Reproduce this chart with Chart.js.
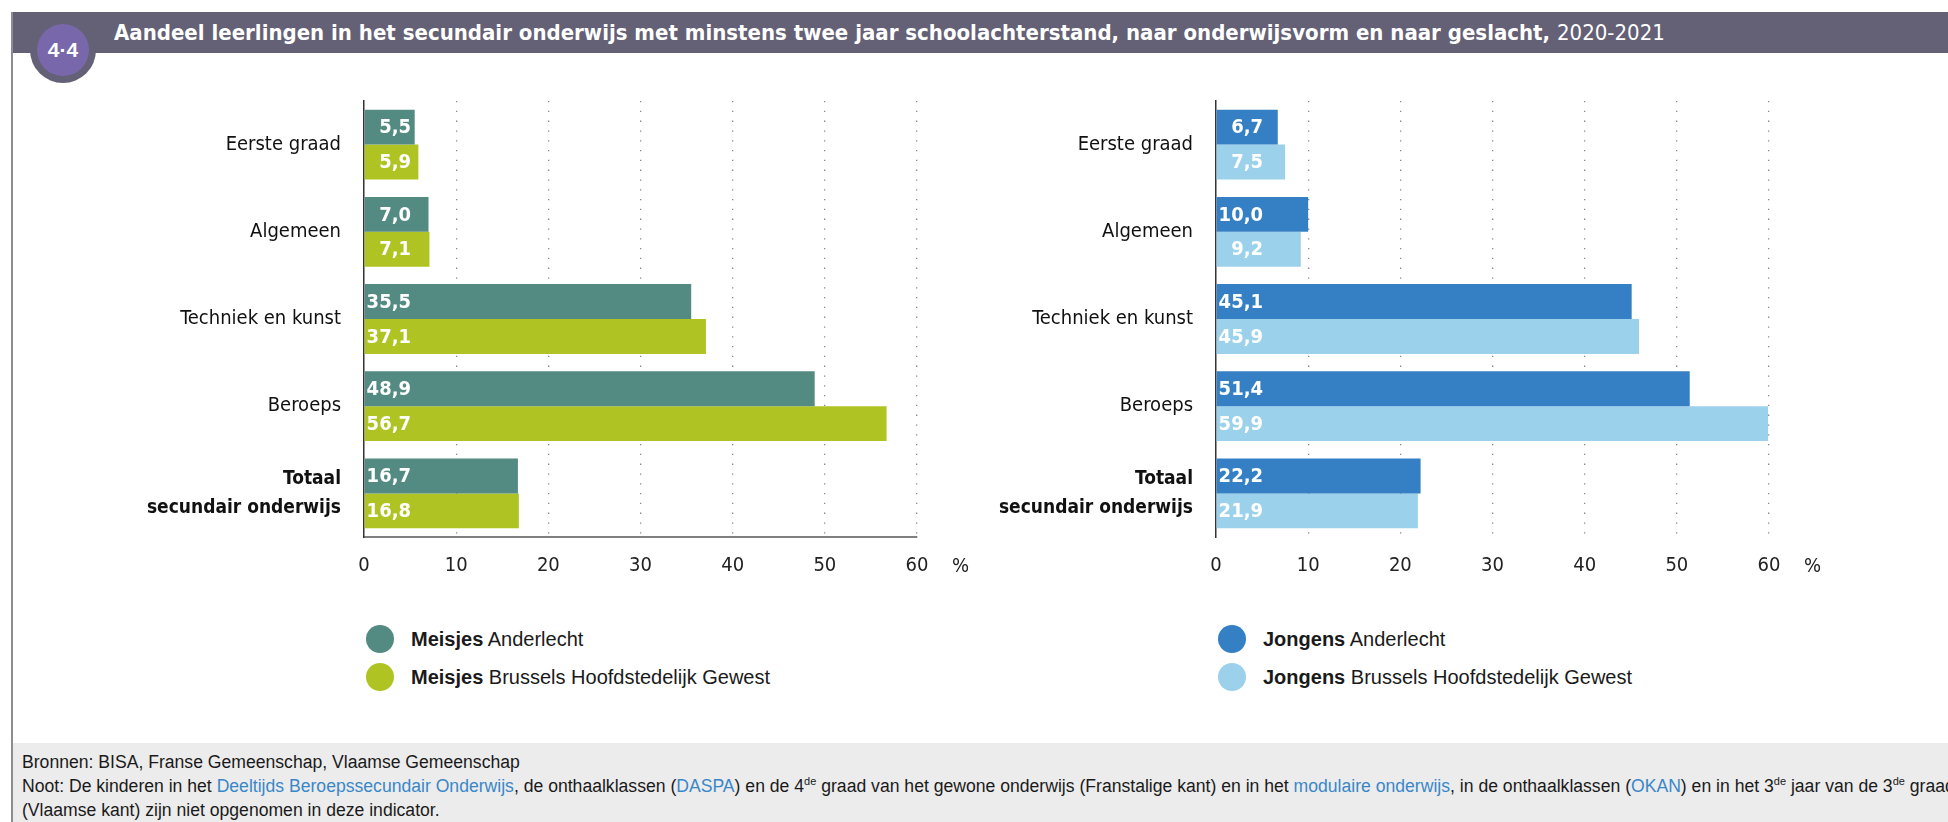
<!DOCTYPE html>
<html>
<head>
<meta charset="utf-8">
<script src="https://cdn.jsdelivr.net/npm/chart.js@4/dist/chart.umd.min.js"></script>
<style>
  body { margin:0; width:1948px; height:822px; background:#fff; position:relative; overflow:hidden; font-family:"Liberation Sans", Arial, sans-serif; }
  .abs { position:absolute; }
  #border { left:11px; top:12px; width:2px; height:810px; background:#8d8b98; }
  #header { left:12px; top:12px; right:0; height:41px; background:#646075; }
  #title { left:114px; top:12px; height:41px; line-height:41px; color:#fff; font-family:"Liberation Sans Narrow","DejaVu Sans Condensed",sans-serif; font-size:22px; font-weight:bold; white-space:nowrap; }
  #title span { font-weight:normal; }
  #badgeOuter { left:30px; top:17px; width:66px; height:66px; border-radius:50%; background:#646075; }
  #badgeInner { left:37px; top:24px; width:52px; height:52px; border-radius:50%; background:#7868ab; color:#fff; font-family:"Liberation Sans Narrow",sans-serif; font-weight:bold; font-size:21px; text-align:center; line-height:52px; }
  canvas { position:absolute; top:0; }
  #c1 { left:0; }
  #c2 { left:852px; }
  .pct { top:553px; font-family:"Liberation Sans Narrow","DejaVu Sans Condensed",sans-serif; font-size:20px; color:#222; }
  .legend { font-size:20px; color:#1a1a1a; white-space:nowrap; }
  .legend div { position:relative; height:38px; line-height:38px; padding-left:45px; }
  .legend i { position:absolute; left:0; top:5px; width:28px; height:28px; border-radius:50%; }
  #footer { left:13px; top:743px; right:0; bottom:0; background:#ececec; font-size:17.6px; color:#1a1a1a; padding:7px 0 0 9px; line-height:24px; white-space:nowrap; overflow:hidden; }
  #footer a { color:#3a87c8; text-decoration:none; }
  #footer sup { font-size:11px; line-height:0; }
</style>
</head>
<body>
<div class="abs" id="header"></div>
<div class="abs" id="border"></div>
<div class="abs" id="badgeOuter"></div>
<div class="abs" id="badgeInner">4·4</div>
<div class="abs" id="title">Aandeel leerlingen in het secundair onderwijs met minstens twee jaar schoolachterstand, naar onderwijsvorm en naar geslacht, <span>2020-2021</span></div>

<canvas id="c1" width="980" height="600"></canvas>
<canvas id="c2" width="980" height="600"></canvas>
<div class="abs pct" style="left:952px">%</div>
<div class="abs pct" style="left:1804px">%</div>

<div class="abs legend" id="leg1" style="left:366px; top:620px"></div>
<div class="abs legend" id="leg2" style="left:1218px; top:620px"></div>

<div class="abs" id="footer">
Bronnen: BISA, Franse Gemeenschap, Vlaamse Gemeenschap<br>
Noot: De kinderen in het <a>Deeltijds Beroepssecundair Onderwijs</a>, de onthaalklassen (<a>DASPA</a>) en de 4<sup>de</sup> graad van het gewone onderwijs (Franstalige kant) en in het <a>modulaire onderwijs</a>, in de onthaalklassen (<a>OKAN</a>) en in het 3<sup>de</sup> jaar van de 3<sup>de</sup> graad<br>
(Vlaamse kant) zijn niet opgenomen in deze indicator.
</div>

<script>
// data
const categories = ['Eerste graad', 'Algemeen', 'Techniek en kunst', 'Beroeps', ['Totaal', 'secundair onderwijs']];
const meisjesAnderlecht = [5.5, 7.0, 35.5, 48.9, 16.7];
const meisjesBrussel = [5.9, 7.1, 37.1, 56.7, 16.8];
const jongensAnderlecht = [6.7, 10.0, 45.1, 51.4, 22.2];
const jongensBrussel = [7.5, 9.2, 45.9, 59.9, 21.9];
const xTicks = [0, 10, 20, 30, 40, 50, 60];
const legendLeft = [['Meisjes', 'Anderlecht'], ['Meisjes', 'Brussels Hoofdstedelijk Gewest']];
const legendRight = [['Jongens', 'Anderlecht'], ['Jongens', 'Brussels Hoofdstedelijk Gewest']];

const narrow = '"Liberation Sans Narrow", "DejaVu Sans Condensed", sans-serif';

const barLabels = {
    id: 'barLabels',
    afterDatasetsDraw(chart) {
        const ctx = chart.ctx;
        const x0 = chart.scales.x.getPixelForValue(0);
        ctx.save();
        ctx.font = 'bold 20px ' + narrow;
        ctx.fillStyle = '#fff';
        ctx.textAlign = 'right';
        ctx.textBaseline = 'middle';
        chart.data.datasets.forEach((ds, i) => {
            chart.getDatasetMeta(i).data.forEach((bar, j) => {
                ctx.fillText(ds.data[j].toFixed(1).replace('.', ','), x0 + 47, bar.y + 1);
            });
        });
        ctx.restore();
    }
};

function makeChart(id, a, b, colA, colB, axisLine) {
    return new Chart(document.getElementById(id), {
        type: 'bar',
        data: {
            labels: categories,
            datasets: [
                {data: a, backgroundColor: colA},
                {data: b, backgroundColor: colB}
            ]
        },
        options: {
            indexAxis: 'y',
            responsive: false,
            animation: false,
            categoryPercentage: 0.8,
            barPercentage: 1.0,
            layout: {padding: {top: 101, right: 63, left: 0, bottom: 0}},
            plugins: {legend: {display: false}, tooltip: {enabled: false}},
            scales: {
                x: {
                    min: 0, max: 60,
                    afterBuildTicks: s => { s.ticks = xTicks.map(v => ({value: v})); },
                    afterFit: s => { s.height = 63; },
                    ticks: {color: '#222', font: {family: narrow, size: 20}, padding: 17},
                    grid: {
                        drawTicks: false,
                        color: c => c.tick && c.tick.value === 0 ? 'rgba(0,0,0,0)' : '#8a8a8a',
                        lineWidth: 1.3
                    },
                    border: {display: axisLine, color: '#808080', width: 2, dash: [1.3, 8.5]}
                },
                y: {
                    afterFit: s => { s.width = 364; },
                    ticks: {
                        color: '#111',
                        padding: 15,
                        font: c => ({family: narrow, size: c.index === 4 ? 19 : 20, weight: c.index === 4 ? 'bold' : 'normal', lineHeight: 1.55})
                    },
                    grid: {display: false},
                    border: {color: '#333', width: 1.5}
                }
            }
        },
        plugins: [barLabels]
    });
}

makeChart('c1', meisjesAnderlecht, meisjesBrussel, '#538b82', '#afc422', true);
makeChart('c2', jongensAnderlecht, jongensBrussel, '#3580c4', '#9cd1ec', false);

function legend(id, items, colors) {
    document.getElementById(id).innerHTML = items.map((it, i) =>
        '<div><i style="background:' + colors[i] + '"></i><b>' + it[0] + '</b> ' + it[1] + '</div>').join('');
}
legend('leg1', legendLeft, ['#538b82', '#afc422']);
legend('leg2', legendRight, ['#3580c4', '#9cd1ec']);
</script>
</body>
</html>
